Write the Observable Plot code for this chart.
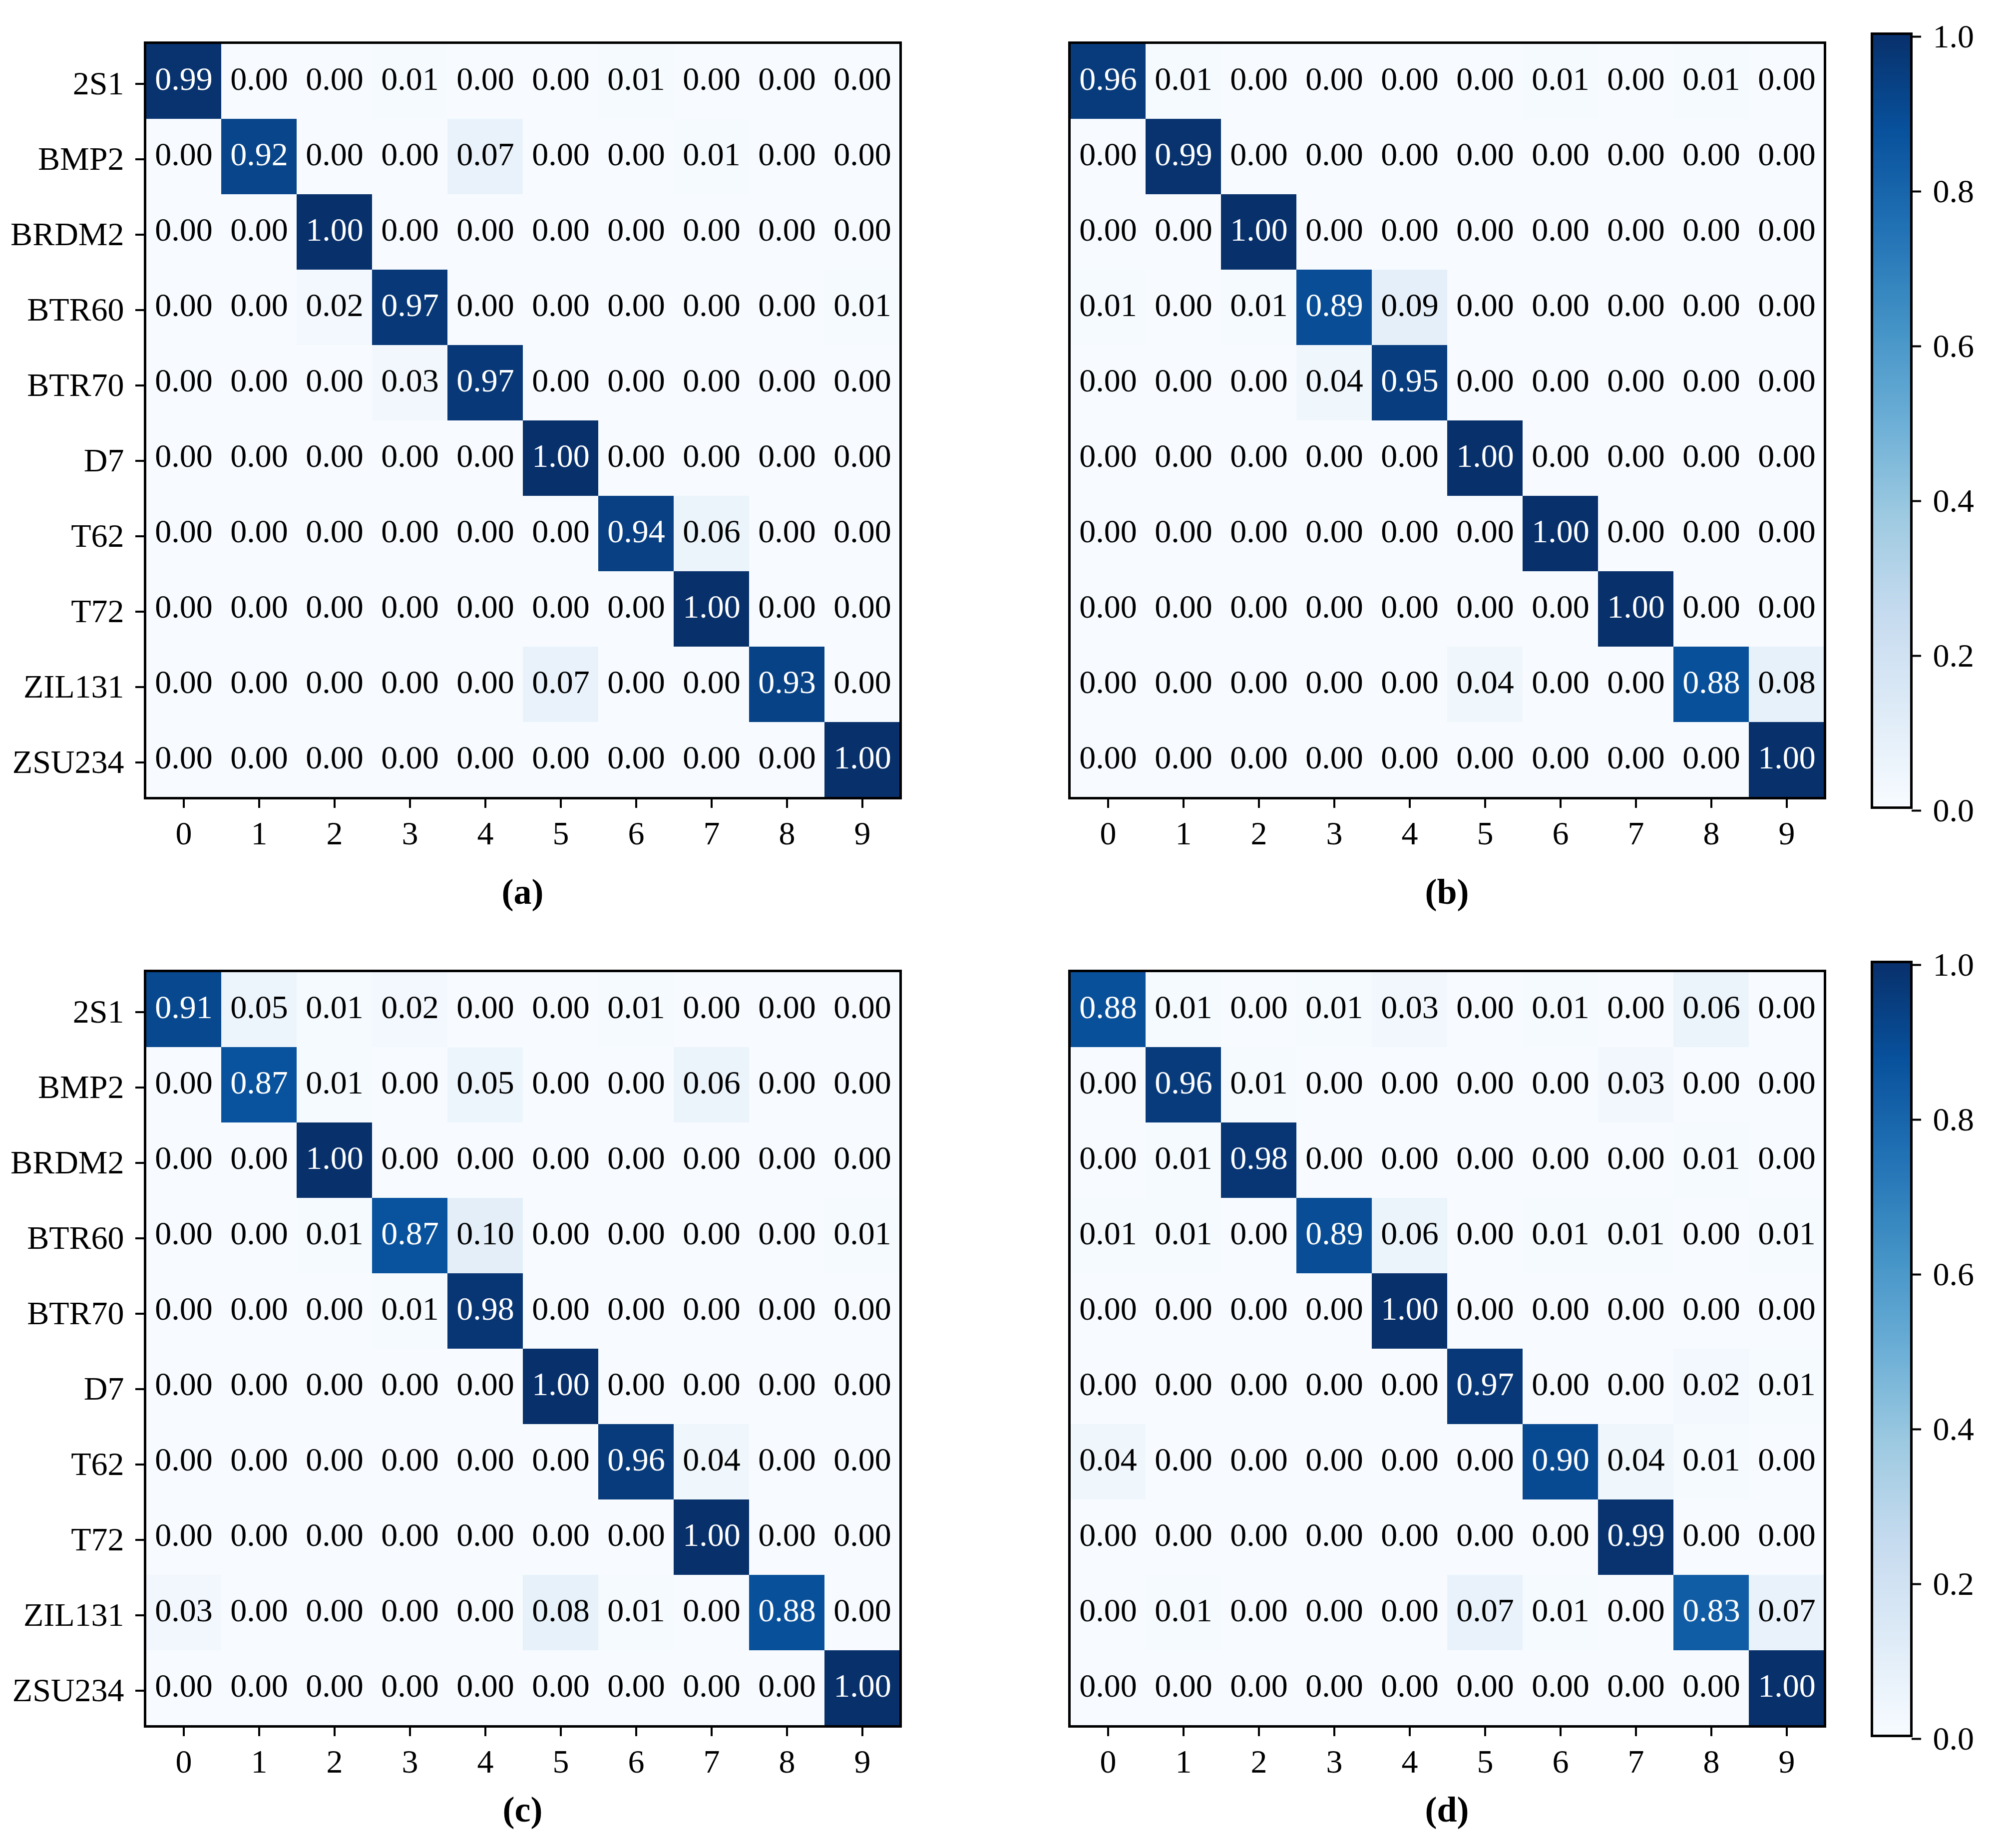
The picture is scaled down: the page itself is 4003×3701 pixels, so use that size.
<!DOCTYPE html>
<html>
<head>
<meta charset="utf-8">
<script src="https://cdn.jsdelivr.net/npm/d3@7"></script>
<script src="https://cdn.jsdelivr.net/npm/@observablehq/plot@0.6"></script>
<style>
  html, body { margin: 0; padding: 0; background: white; }
  #root { position: relative; width: 4003px; height: 3701px; background: white; font-family: "Liberation Serif", "Times New Roman", serif; }
  .slot { position: absolute; }
  .cap { position: absolute; width: 400px; text-align: center; font-weight: bold; font-size: 72px; line-height: 72px; font-family: "Liberation Serif", "Times New Roman", serif; }
</style>
</head>
<body>
<div id="root"></div>
<script>
// ---------------- data ----------------
const classes = ["2S1", "BMP2", "BRDM2", "BTR60", "BTR70", "D7", "T62", "T72", "ZIL131", "ZSU234"];
const predLabels = ["0", "1", "2", "3", "4", "5", "6", "7", "8", "9"];

const matrixA = [
  [0.99, 0.00, 0.00, 0.01, 0.00, 0.00, 0.01, 0.00, 0.00, 0.00],
  [0.00, 0.92, 0.00, 0.00, 0.07, 0.00, 0.00, 0.01, 0.00, 0.00],
  [0.00, 0.00, 1.00, 0.00, 0.00, 0.00, 0.00, 0.00, 0.00, 0.00],
  [0.00, 0.00, 0.02, 0.97, 0.00, 0.00, 0.00, 0.00, 0.00, 0.01],
  [0.00, 0.00, 0.00, 0.03, 0.97, 0.00, 0.00, 0.00, 0.00, 0.00],
  [0.00, 0.00, 0.00, 0.00, 0.00, 1.00, 0.00, 0.00, 0.00, 0.00],
  [0.00, 0.00, 0.00, 0.00, 0.00, 0.00, 0.94, 0.06, 0.00, 0.00],
  [0.00, 0.00, 0.00, 0.00, 0.00, 0.00, 0.00, 1.00, 0.00, 0.00],
  [0.00, 0.00, 0.00, 0.00, 0.00, 0.07, 0.00, 0.00, 0.93, 0.00],
  [0.00, 0.00, 0.00, 0.00, 0.00, 0.00, 0.00, 0.00, 0.00, 1.00]
];
const matrixB = [
  [0.96, 0.01, 0.00, 0.00, 0.00, 0.00, 0.01, 0.00, 0.01, 0.00],
  [0.00, 0.99, 0.00, 0.00, 0.00, 0.00, 0.00, 0.00, 0.00, 0.00],
  [0.00, 0.00, 1.00, 0.00, 0.00, 0.00, 0.00, 0.00, 0.00, 0.00],
  [0.01, 0.00, 0.01, 0.89, 0.09, 0.00, 0.00, 0.00, 0.00, 0.00],
  [0.00, 0.00, 0.00, 0.04, 0.95, 0.00, 0.00, 0.00, 0.00, 0.00],
  [0.00, 0.00, 0.00, 0.00, 0.00, 1.00, 0.00, 0.00, 0.00, 0.00],
  [0.00, 0.00, 0.00, 0.00, 0.00, 0.00, 1.00, 0.00, 0.00, 0.00],
  [0.00, 0.00, 0.00, 0.00, 0.00, 0.00, 0.00, 1.00, 0.00, 0.00],
  [0.00, 0.00, 0.00, 0.00, 0.00, 0.04, 0.00, 0.00, 0.88, 0.08],
  [0.00, 0.00, 0.00, 0.00, 0.00, 0.00, 0.00, 0.00, 0.00, 1.00]
];
const matrixC = [
  [0.91, 0.05, 0.01, 0.02, 0.00, 0.00, 0.01, 0.00, 0.00, 0.00],
  [0.00, 0.87, 0.01, 0.00, 0.05, 0.00, 0.00, 0.06, 0.00, 0.00],
  [0.00, 0.00, 1.00, 0.00, 0.00, 0.00, 0.00, 0.00, 0.00, 0.00],
  [0.00, 0.00, 0.01, 0.87, 0.10, 0.00, 0.00, 0.00, 0.00, 0.01],
  [0.00, 0.00, 0.00, 0.01, 0.98, 0.00, 0.00, 0.00, 0.00, 0.00],
  [0.00, 0.00, 0.00, 0.00, 0.00, 1.00, 0.00, 0.00, 0.00, 0.00],
  [0.00, 0.00, 0.00, 0.00, 0.00, 0.00, 0.96, 0.04, 0.00, 0.00],
  [0.00, 0.00, 0.00, 0.00, 0.00, 0.00, 0.00, 1.00, 0.00, 0.00],
  [0.03, 0.00, 0.00, 0.00, 0.00, 0.08, 0.01, 0.00, 0.88, 0.00],
  [0.00, 0.00, 0.00, 0.00, 0.00, 0.00, 0.00, 0.00, 0.00, 1.00]
];
const matrixD = [
  [0.88, 0.01, 0.00, 0.01, 0.03, 0.00, 0.01, 0.00, 0.06, 0.00],
  [0.00, 0.96, 0.01, 0.00, 0.00, 0.00, 0.00, 0.03, 0.00, 0.00],
  [0.00, 0.01, 0.98, 0.00, 0.00, 0.00, 0.00, 0.00, 0.01, 0.00],
  [0.01, 0.01, 0.00, 0.89, 0.06, 0.00, 0.01, 0.01, 0.00, 0.01],
  [0.00, 0.00, 0.00, 0.00, 1.00, 0.00, 0.00, 0.00, 0.00, 0.00],
  [0.00, 0.00, 0.00, 0.00, 0.00, 0.97, 0.00, 0.00, 0.02, 0.01],
  [0.04, 0.00, 0.00, 0.00, 0.00, 0.00, 0.90, 0.04, 0.01, 0.00],
  [0.00, 0.00, 0.00, 0.00, 0.00, 0.00, 0.00, 0.99, 0.00, 0.00],
  [0.00, 0.01, 0.00, 0.00, 0.00, 0.07, 0.01, 0.00, 0.83, 0.07],
  [0.00, 0.00, 0.00, 0.00, 0.00, 0.00, 0.00, 0.00, 0.00, 1.00]
];
const panelCaptions = ["(a)", "(b)", "(c)", "(d)"];
const colorbarTicks = [0.0, 0.2, 0.4, 0.6, 0.8, 1.0];

// ---------------- styling ----------------
const blues9 = ["#f7fbff", "#deebf7", "#c6dbef", "#9ecae1", "#6baed6", "#4292c6", "#2171b5", "#08519c", "#08306b"];
const bluesInterp = d3.piecewise(d3.interpolateRgb, blues9);
const FONT = "'Liberation Serif', 'Times New Roman', serif";
const FS = 66;
const svgStyle = `background: transparent; max-width: none; overflow: visible; font-family: ${FONT};`;
const colorScale = {type: "linear", domain: [0, 1], interpolate: bluesInterp};

const root = document.getElementById("root");

function place(node, left, top) {
  const d = document.createElement("div");
  d.className = "slot";
  d.style.left = left + "px";
  d.style.top = top + "px";
  d.appendChild(node);
  root.appendChild(d);
}

function toTable(matrix) {
  return matrix.flatMap((row, i) => row.map((v, j) => ({t: classes[i], p: predLabels[j], v})));
}

const FRAME = 1513;

function panel(matrix, showY) {
  const data = toTable(matrix);
  const mL = showY ? 290 : 20;
  const mT = 85, mB = 120, mR = 50;
  return Plot.plot({
    width: mL + FRAME + mR,
    height: mT + FRAME + mB,
    marginLeft: mL, marginRight: mR, marginTop: mT, marginBottom: mB,
    style: svgStyle,
    x: {domain: predLabels, padding: 0, label: null},
    y: {domain: classes, padding: 0, label: null, axis: showY ? undefined : null},
    color: colorScale,
    marks: [
      Plot.cell(data, {x: "p", y: "t", fill: "v", inset: 0}),
      Plot.text(data.filter(d => d.v > 0.5), {x: "p", y: "t", text: d => d.v.toFixed(2), fill: "white", fontSize: FS, fontFamily: FONT, dy: -4}),
      Plot.text(data.filter(d => d.v <= 0.5), {x: "p", y: "t", text: d => d.v.toFixed(2), fill: "black", fontSize: FS, fontFamily: FONT, dy: -4}),
      Plot.frame({stroke: "black", strokeWidth: 5}),
      Plot.axisX({tickSize: 20, tickPadding: 26, fontSize: FS, strokeWidth: 4, label: null, fontFamily: FONT}),
      showY ? Plot.axisY({tickSize: 19, tickPadding: 23, fontSize: FS, strokeWidth: 4, label: null, fontFamily: FONT, dy: 5}) : null
    ]
  });
}

function colorbar() {
  const steps = d3.range(300).map(i => ({y1: i / 300, y2: (i + 1) / 300, c: (i + 0.5) / 300}));
  const mT = 67, H = 1550, mB = 60, mL = 48, W = 79, mR = 170;
  return Plot.plot({
    width: mL + W + mR,
    height: mT + H + mB,
    marginLeft: mL, marginRight: mR, marginTop: mT, marginBottom: mB,
    style: svgStyle,
    x: {axis: null},
    y: {domain: [0, 1], label: null, axis: null},
    color: colorScale,
    marks: [
      Plot.rect(steps, {y1: "y1", y2: "y2", fill: "c", inset: 0, shapeRendering: "crispEdges"}),
      Plot.frame({stroke: "black", strokeWidth: 5}),
      Plot.axisY({anchor: "right", ticks: colorbarTicks, tickFormat: d3.format(".1f"), tickSize: 19, tickPadding: 24, fontSize: FS, strokeWidth: 4, label: null, fontFamily: FONT, dy: 6})
    ]
  });
}

function caption(text, centerX, top) {
  const d = document.createElement("div");
  d.className = "cap";
  d.textContent = text;
  d.style.left = (centerX - 200) + "px";
  d.style.top = top + "px";
  root.appendChild(d);
}

// panel frames: a/c at x 290, b/d at x 2141; top row y 85, bottom row y 1944
place(panel(matrixA, true), 0, 0);
place(panel(matrixB, false), 2141 - 20, 0);
place(panel(matrixC, true), 0, 1944 - 85);
place(panel(matrixD, false), 2141 - 20, 1944 - 85);
place(colorbar(), 3748 - 48, 0);
place(colorbar(), 3748 - 48, 1926 - 67);

caption(panelCaptions[0], 290 + FRAME / 2, 1750);
caption(panelCaptions[1], 2141 + FRAME / 2, 1750);
caption(panelCaptions[2], 290 + FRAME / 2, 3588);
caption(panelCaptions[3], 2141 + FRAME / 2, 3588);
</script>
</body>
</html>
